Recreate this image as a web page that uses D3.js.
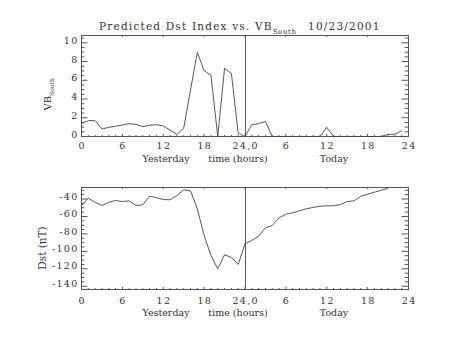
<!DOCTYPE html>
<html><head><meta charset="utf-8">
<script src="https://cdn.jsdelivr.net/npm/d3@7"></script>
<style>body{margin:0;background:#fff}svg text{font-family:"DejaVu Serif",serif;fill:#333}</style>
</head><body><svg id="c" width="454" height="341"></svg>
<script>
// ---- data ----
const vbHours = [0,1,2,3,4,5,6,7,8,9,10,11,12,13,14,15,16,17,18,19,20,21,22,23,24,25,26,27,28,29,30,31,32,33,34,35,36,37,38,39,40,41,42,43,44,45,46,47];
const vbSouth = [1.41,1.69,1.69,0.80,0.98,1.09,1.23,1.37,1.30,1.05,1.20,1.26,1.12,0.69,0.23,0.88,4.95,8.99,7.02,6.56,0,7.28,6.74,0.34,0,1.26,1.37,1.62,0,0,0,0,0,0,0,0,0.98,0,0,0,0,0,0,0,0,0.23,0.23,0.62];
const dstHours = [0,1,2,3,4,5,6,7,8,9,10,11,12,13,14,15,16,17,18,19,20,21,22,23,24,25,26,27,28,29,30,31,32,33,34,35,36,37,38,39,40,41,42,43,44,45];
const dst = [-47.4,-39.1,-43.7,-47.4,-43.7,-41.7,-42.9,-42.1,-47.4,-46.6,-36.8,-38.3,-40.6,-40.9,-36.0,-29.5,-30.6,-51.2,-81.8,-104.7,-120.0,-103.9,-107.0,-115.0,-91.3,-87.5,-82.6,-73.0,-70.4,-61.5,-57.4,-55.8,-53.5,-51.2,-49.7,-48.2,-47.8,-47.8,-46.3,-42.9,-42.1,-36.8,-34.5,-32.2,-29.9,-27.6];
const xTickValues = [0,6,12,18,24,30,36,42,48];
const xTickLabels = ["0","6","12","18","24,0","6","12","18","24"];
const xMinorValues = [1,2,3,4,5,7,8,9,10,11,13,14,15,16,17,19,20,21,22,23,25,26,27,28,29,31,32,33,34,35,37,38,39,40,41,43,44,45,46,47];
const vbTicks = [0,2,4,6,8,10];
const vbMinor = [0.5,1,1.5,2.5,3,3.5,4.5,5,5.5,6.5,7,7.5,8.5,9,9.5,10.5];
const dstTicks = [-140,-120,-100,-80,-60,-40];
const dstMinor = [-135,-130,-125,-115,-110,-105,-95,-90,-85,-75,-70,-65,-55,-50,-45,-35,-30];
const dayLabels = ["Yesterday","time (hours)","Today"];
const titleMain = "Predicted Dst Index vs. VB";
const titleSub = "South";
const titleDate = "10/23/2001";

// ---- drawing ----
const svg = d3.select("#c");
const stroke = "#555";
const x = d3.scaleLinear().domain([0,48]).range([81,408]);

function panel(y, top, bottom, yt, ym, labPad, yLabelFmt, labelCenterShift) {
  const g = svg.append("g");
  const lx = x.range()[0], rx = x.range()[1];
  const bAx = g.append("g").attr("transform",`translate(0,${bottom})`)
    .call(d3.axisBottom(x).tickValues(xTickValues).tickSize(-2).tickPadding(labPad)
      .tickFormat((d,i)=>xTickLabels[i]));
  bAx.selectAll("text").style("font-size","9.5px").style("letter-spacing","1.3px").attr("dx","0.65px");
  g.append("g").attr("transform",`translate(0,${bottom})`)
    .call(d3.axisBottom(x).tickValues(xMinorValues).tickSize(-1).tickFormat(""));
  g.append("g").attr("transform",`translate(0,${top})`)
    .call(d3.axisTop(x).tickValues(xTickValues).tickSize(-2).tickFormat(""));
  g.append("g").attr("transform",`translate(0,${top})`)
    .call(d3.axisTop(x).tickValues(xMinorValues).tickSize(-1).tickFormat(""));
  const lAx = g.append("g").attr("transform",`translate(${lx},0)`)
    .call(d3.axisLeft(y).tickValues(yt).tickSize(-6.5).tickPadding(2.5).tickFormat(yLabelFmt));
  lAx.selectAll("text").style("font-size","9.5px").style("letter-spacing","1.3px")
    .attr("dy", (3.4+labelCenterShift)+"px");
  g.append("g").attr("transform",`translate(${lx},0)`)
    .call(d3.axisLeft(y).tickValues(ym).tickSize(-3.3).tickFormat(""));
  g.append("g").attr("transform",`translate(${rx},0)`)
    .call(d3.axisRight(y).tickValues(yt).tickSize(-6.5).tickFormat(""));
  g.append("g").attr("transform",`translate(${rx},0)`)
    .call(d3.axisRight(y).tickValues(ym).tickSize(-3.3).tickFormat(""));
  g.selectAll(".domain").remove();
  g.selectAll(".tick line").attr("stroke",stroke);
  g.append("rect").attr("x",lx+0.5).attr("y",top+0.5).attr("width",rx-lx).attr("height",bottom-top)
    .attr("fill","none").attr("stroke",stroke).attr("shape-rendering","crispEdges");
  g.append("line").attr("x1",x(24)+0.5).attr("x2",x(24)+0.5).attr("y1",top+0.5).attr("y2",bottom+0.5)
    .attr("stroke",stroke).attr("shape-rendering","crispEdges");
  return g;
}

const yTop = d3.scaleLinear().domain([0,10.78]).range([136,35]);
const yBot = d3.scaleLinear().domain([-143.7,-26.8]).range([289,187]);

const g1 = panel(yTop, 35, 136, vbTicks, vbMinor, 6.5, d=>String(d), -2.3);
const g2 = panel(yBot, 187, 289, dstTicks, dstMinor, 8.2, d=>String(d).replace("\u2212","-"), -2.8);

const line1 = d3.line().x(d=>x(d[0])+0.5).y(d=>yTop(d[1])+0.5);
g1.append("path").datum(vbHours.map((h,i)=>[h,vbSouth[i]])).attr("d",line1)
  .attr("fill","none").attr("stroke","#444").attr("stroke-width",0.9);
const line2 = d3.line().x(d=>x(d[0])+0.5).y(d=>yBot(d[1])+0.5);
g2.append("path").datum(dstHours.map((h,i)=>[h,dst[i]])).attr("d",line2)
  .attr("fill","none").attr("stroke","#444").attr("stroke-width",0.9);

function dayRow(yb) {
  const xs = [166, 238, 334];
  dayLabels.forEach((t,i)=>{
    svg.append("text").attr("x",xs[i]).attr("y",yb).attr("text-anchor","middle")
      .style("font-size","9.5px").text(t);
  });
}
dayRow(162);
dayRow(315.5);

const tt = svg.append("text").attr("x",99).attr("y",29.5).style("font-size","10.5px").style("letter-spacing","1.2px");
tt.append("tspan").text(titleMain);
tt.append("tspan").attr("dy","4.8px").style("font-size","7px").style("letter-spacing","0.6px").text(titleSub);
svg.append("text").attr("x",308).attr("y",29.5).style("font-size","10.5px").style("letter-spacing","1.2px").text(titleDate);

const yl1 = svg.append("text").attr("transform","translate(51,110.5) rotate(-90)").style("font-size","10px");
yl1.append("tspan").text("VB");
yl1.append("tspan").attr("dy","2.5px").style("font-size","6px").text("South");
svg.append("text").attr("transform","translate(46,248) rotate(-90)").attr("text-anchor","middle")
  .style("font-size","10.5px").text("Dst (nT)");
</script></body></html>
